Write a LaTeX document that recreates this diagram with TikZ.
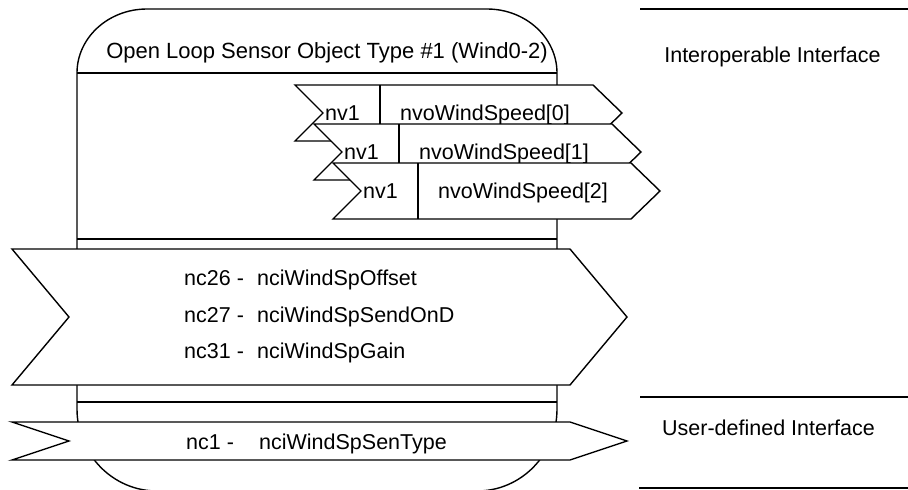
\documentclass[tikz,border=0pt]{standalone}
\usepackage{fontspec}
\setmainfont{Liberation Sans}
\begin{document}
\begin{tikzpicture}[x=1pt,y=-1pt,
  outline/.style={draw=black, line width=1.4pt},
  band/.style={draw=black, fill=white, line width=1.4pt, line join=miter},
  txt/.style={inner sep=0pt, anchor=base west, font=\fontsize{21.5}{24}\selectfont},
  ctxt/.style={inner sep=0pt, anchor=base, font=\fontsize{21.5}{24}\selectfont}]
\useasboundingbox (0,0) rectangle (908,490);
\clip (0,0) rectangle (908,490);

% object body with rounded top and bottom caps
\draw[outline] (77,73) .. controls (77,37.7) and (108.3,9) .. (147,9) -- (487,9)
  .. controls (525.7,9) and (557,37.7) .. (557,73) -- (557,409)
  .. controls (557,454.3) and (521.2,491) .. (477,491) -- (157,491)
  .. controls (112.8,491) and (77,454.3) .. (77,409) -- cycle;
\draw[outline] (77,73) -- (557,73);
\draw[outline] (77,239) -- (557,239);
\draw[outline] (77,402) -- (557,402);
\node[ctxt, font=\fontsize{22}{24}\selectfont] (title) at (327,58) {Open Loop Sensor Object Type \#1 (Wind0-2)};

% network variable outputs
\draw[band] (295,85) -- (593,85) -- (622,113) -- (593,141) -- (295,141) -- (323,113) -- cycle;
\draw[outline] (380,85) -- (380,141);
\node[txt] (nvA) at (325,120.5) {nv1};
\node[txt] (nvoA) at (400,120.5) {nvoWindSpeed[0]};

\draw[band] (314,124) -- (612,124) -- (641,152) -- (612,180) -- (314,180) -- (342,152) -- cycle;
\draw[outline] (399,124) -- (399,180);
\node[txt] (nvB) at (344,159.5) {nv1};
\node[txt] (nvoB) at (419,159.5) {nvoWindSpeed[1]};

\draw[band] (333,163) -- (631,163) -- (660,191) -- (631,219) -- (333,219) -- (361,191) -- cycle;
\draw[outline] (418,163) -- (418,219);
\node[txt] (nvC) at (363,198.5) {nv1};
\node[txt] (nvoC) at (438,198.5) {nvoWindSpeed[2]};

% configuration properties
\draw[band] (12,249) -- (570,249) -- (627,317) -- (570,385) -- (12,385) -- (69,317) -- cycle;
\node[txt] (ncA) at (184,285) {nc26 -};
\node[txt] (nciA) at (257,285) {nciWindSpOffset};
\node[txt] (ncB) at (184,322) {nc27 -};
\node[txt] (nciB) at (257,322) {nciWindSpSendOnD};
\node[txt] (ncC) at (184,358) {nc31 -};
\node[txt] (nciC) at (257,358) {nciWindSpGain};

\draw[band] (12,422) -- (570,422) -- (627,441) -- (570,460) -- (12,460) -- (69,441) -- cycle;
\node[txt] (ncD) at (186,449) {nc1 -};
\node[txt] (nciD) at (259,449) {nciWindSpSenType};

% interface legend
\draw[outline] (640,9) -- (908,9);
\draw[outline] (640,397) -- (908,397);
\draw[outline] (639,488) -- (908,488);
\node[ctxt] (interop) at (772.5,62) {Interoperable Interface};
\node[ctxt] (userdef) at (768.5,435) {User-defined Interface};
\end{tikzpicture}
\end{document}
